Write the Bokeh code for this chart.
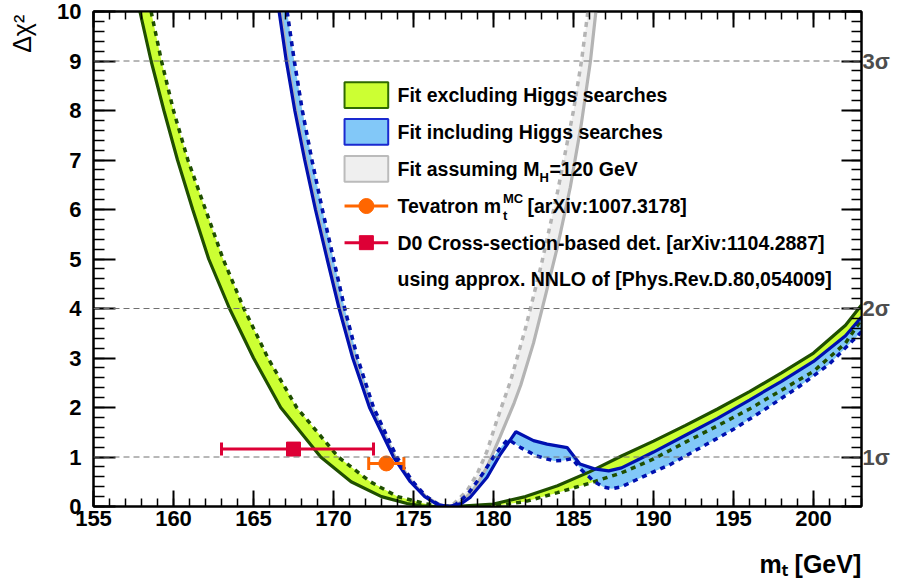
import math
from bokeh.plotting import figure
from bokeh.models import LinearAxis, SingleIntervalTicker, FixedTicker, Span, Label
from bokeh.embed import file_html
from bokeh.resources import INLINE

# ---------------- data ----------------
# Fit excluding Higgs searches (green band)
green_solid_x = [157.9, 158.6, 159.4, 160.25, 161.2, 162.2, 163.5, 165.0, 166.7, 169.2, 171.1, 173.0, 174.6, 175.5, 176.3,
                 178.0, 180.0, 182.0, 184.0, 186.0, 188.0, 190.0, 192.0, 194.0, 196.0, 198.0, 200.0, 202.0, 203.0]
green_solid_y = [10.0, 9.0, 8.0, 7.0, 6.0, 5.0, 4.0, 3.0, 2.0, 1.0, 0.5, 0.2, 0.06, 0.015, 0.0,
                 0.01, 0.05, 0.2, 0.42, 0.7, 1.02, 1.32, 1.64, 1.97, 2.32, 2.7, 3.1, 3.66, 4.07]
green_dot_x = [158.6, 159.25, 160.0, 160.9, 162.0, 163.1, 164.4, 165.9, 167.7, 170.3, 172.3, 174.0, 175.8, 177.0, 177.8,
               180.0, 182.0, 184.0, 186.0, 188.0, 190.0, 192.0, 194.0, 196.0, 198.0, 200.0, 202.0, 203.0]
green_dot_y = [10.0, 9.0, 8.0, 7.0, 6.0, 5.0, 4.0, 3.0, 2.0, 1.0, 0.5, 0.2, 0.05, 0.01, 0.0,
               0.01, 0.1, 0.28, 0.47, 0.68, 0.96, 1.3, 1.63, 1.97, 2.35, 2.73, 3.3, 3.78]

# Fit including Higgs searches (blue band)
blue_solid_x = [166.6, 167.05, 167.58, 168.2, 168.87, 169.6, 170.35, 171.2, 172.25, 173.75, 174.8, 175.7, 176.5, 177.2,
                178.0, 178.56, 179.6, 180.44, 181.4, 182.5, 183.35, 184.6, 185.4, 186.3, 187.2, 188.0, 189.0, 190.0,
                192.0, 194.0, 196.0, 198.0, 200.0, 202.0, 203.0]
blue_solid_y = [10.0, 9.0, 8.0, 7.0, 6.0, 5.0, 4.0, 3.0, 2.0, 1.0, 0.5, 0.2, 0.04, 0.0,
                0.06, 0.19, 0.59, 1.06, 1.51, 1.33, 1.26, 1.19, 0.86, 0.76, 0.72, 0.78, 0.94, 1.1,
                1.44, 1.78, 2.15, 2.53, 2.93, 3.45, 3.83]
blue_dot_x = [167.1, 167.55, 168.05, 168.65, 169.3, 170.0, 170.7, 171.5, 172.5, 173.95, 174.95, 175.8, 176.5, 177.0,
              177.6, 178.4, 179.3, 180.0, 180.44, 180.9, 181.7, 182.7, 183.8, 184.4, 184.9, 185.5, 186.3, 186.9,
              187.4, 188.0, 188.8, 190.0, 191.0, 193.0, 195.0, 197.0, 199.0, 201.0, 203.0]
blue_dot_y = [10.0, 9.0, 8.0, 7.0, 6.0, 5.0, 4.0, 3.0, 2.0, 1.0, 0.5, 0.2, 0.05, 0.0,
              0.03, 0.25, 0.65, 1.0, 1.19, 1.36, 1.19, 1.02, 0.92, 0.93, 0.97, 0.74, 0.5, 0.39,
              0.36, 0.4, 0.52, 0.7, 0.84, 1.2, 1.56, 1.97, 2.4, 2.88, 3.53]

# Fit assuming M_H = 120 GeV (grey band)
grey_solid_x = [166.7, 167.13, 167.66, 168.28, 168.95, 169.68, 170.43, 171.28, 172.33, 173.83, 174.88, 175.78, 176.6, 177.2,
                177.9, 178.8, 179.6, 180.4, 181.3, 181.7, 182.5, 183.2, 184.0, 184.8, 185.5, 186.06, 186.4]
grey_solid_y = [10.0, 9.0, 8.0, 7.0, 6.0, 5.0, 4.0, 3.0, 2.0, 1.0, 0.5, 0.2, 0.04, 0.0,
                0.07, 0.35, 0.8, 1.4, 2.1, 2.45, 3.3, 4.2, 5.25, 6.45, 7.75, 9.0, 10.0]
grey_dot_x = [167.1, 167.55, 168.05, 168.65, 169.3, 170.0, 170.7, 171.5, 172.5, 173.95, 174.95, 175.8, 176.6, 177.1,
              177.5, 178.35, 178.98, 179.6, 180.2, 181.06, 182.0, 183.0, 184.0, 185.0, 185.5, 185.9]
grey_dot_y = [10.0, 9.0, 8.0, 7.0, 6.0, 5.0, 4.0, 3.0, 2.0, 1.0, 0.5, 0.2, 0.04, 0.0,
              0.05, 0.32, 0.66, 1.12, 1.73, 2.53, 3.6, 4.9, 6.35, 8.0, 9.0, 10.0]

# Direct measurements
tev_mt, tev_lo, tev_hi, tev_y = [173.3], [172.2], [174.4], [0.87]
d0_mt, d0_lo, d0_hi, d0_y = [167.5], [163.0], [172.5], [1.16]

# sigma reference levels
sigma_levels = [1, 4, 9]
sigma_labels = ["1σ", "2σ", "3σ"]

legend_texts = ["Fit excluding Higgs searches", "Fit including Higgs searches", "Fit assuming M",
                "Tevatron m", "D0 Cross-section-based det. [arXiv:1104.2887]",
                "using approx. NNLO of [Phys.Rev.D.80,054009]"]

x_title = "m\u209c [GeV]"
y_title = "Δχ²"

# ---------------- style ----------------
FONT = "Liberation Sans"
LIME, DKGREEN = "#ccff33", "#1f4f00"
LBLUE, DKBLUE = "#82c8f8", "#0010b0"
LGREY, GREY = "#efefef", "#b4b4b4"
ORANGE, CRIMSON = "#ff6600", "#dd0036"
XR = (155, 203)
YR = (0, 10)
# where the axis titles sit (ROOT style: at the far end of each axis)
X_TITLE_AT = 199.8
Y_TITLE_AT = 9.55

p = figure(width=898, height=586, x_range=XR, y_range=YR, output_backend="svg",
           toolbar_location=None, min_border_left=93, min_border_right=37,
           min_border_top=11, min_border_bottom=80)
p.grid.visible = False
p.outline_line_color = "black"
p.outline_line_width = 2
p.background_fill_color = "white"
p.border_fill_color = "white"


def style_axis(ax, major_len, minor_len, labels=True):
    ax.axis_line_width = 2
    ax.major_tick_in = major_len
    ax.major_tick_out = 0
    ax.minor_tick_in = minor_len
    ax.minor_tick_out = 0
    ax.major_tick_line_width = 2
    ax.minor_tick_line_width = 1.5
    ax.major_label_text_font = FONT
    ax.major_label_text_font_style = "bold"
    ax.major_label_text_color = "black"
    if labels:
        ax.major_label_text_font_size = "22px"
    else:
        ax.major_label_text_font_size = "1px"
        ax.major_label_text_color = None
        ax.major_label_standoff = 0


def title_axis(pos, text, size, style, standoff, orientation="horizontal"):
    ax = LinearAxis(ticker=FixedTicker(ticks=[pos]), major_label_overrides={pos: text})
    ax.axis_line_color = None
    ax.major_tick_line_color = None
    ax.minor_tick_line_color = None
    ax.major_tick_in = 0
    ax.major_tick_out = 0
    ax.major_label_standoff = standoff
    ax.major_label_orientation = orientation
    ax.major_label_text_font = FONT
    ax.major_label_text_font_style = style
    ax.major_label_text_font_size = size
    ax.major_label_text_color = "black"
    return ax


xt = SingleIntervalTicker(interval=5, num_minor_ticks=5)
yt = SingleIntervalTicker(interval=1, num_minor_ticks=5)
p.xaxis.ticker = xt
p.yaxis.ticker = yt
style_axis(p.xaxis[0], 16, 8)
style_axis(p.yaxis[0], 22, 11)
p.xaxis.major_label_standoff = 4
p.yaxis.major_label_standoff = 12

top = LinearAxis(ticker=SingleIntervalTicker(interval=5, num_minor_ticks=5))
style_axis(top, 16, 8, labels=False)
p.add_layout(top, "above")
right = LinearAxis(ticker=SingleIntervalTicker(interval=1, num_minor_ticks=5))
style_axis(right, 20, 10, labels=False)
p.add_layout(right, "right")

# sigma labels on the right side
sig = title_axis(sigma_levels[0], sigma_labels[0], "22px", "bold", 1)
sig.ticker = FixedTicker(ticks=sigma_levels)
sig.major_label_overrides = dict(zip(sigma_levels, sigma_labels))
sig.major_label_text_color = "#4d4d4d"
p.add_layout(sig, "right")

# axis titles
p.add_layout(title_axis(X_TITLE_AT, x_title, "25px", "bold", 21), "below")
p.add_layout(title_axis(Y_TITLE_AT, y_title, "25px", "normal", 18, "parallel"), "left")

# ---------------- bands ----------------
p.patch(green_solid_x + green_dot_x[::-1], green_solid_y + green_dot_y[::-1],
        fill_color=LIME, line_alpha=0)
p.patch(grey_solid_x + grey_dot_x[::-1], grey_solid_y + grey_dot_y[::-1],
        fill_color=LGREY, line_alpha=0)
p.patch(blue_solid_x + blue_dot_x[::-1], blue_solid_y + blue_dot_y[::-1],
        fill_color=LBLUE, line_alpha=0)

DOT = "5 5"
p.line(green_dot_x, green_dot_y, line_color=DKGREEN, line_width=3.5, line_dash=DOT)
p.line(green_solid_x, green_solid_y, line_color=DKGREEN, line_width=3.2)
p.line(grey_dot_x, grey_dot_y, line_color=GREY, line_width=3.5, line_dash=DOT)
p.line(grey_solid_x, grey_solid_y, line_color=GREY, line_width=3.2)
p.line(blue_dot_x, blue_dot_y, line_color=DKBLUE, line_width=3.5, line_dash=DOT)
p.line(blue_solid_x, blue_solid_y, line_color=DKBLUE, line_width=3.2)

# ---------------- sigma lines ----------------
for lvl in sigma_levels:
    p.add_layout(Span(location=lvl, dimension="width", line_color="#707070",
                      line_width=1, line_dash="6 4"))

# ---------------- measurements ----------------
p.segment(x0=d0_lo, x1=d0_hi, y0=d0_y, y1=d0_y, line_color=CRIMSON, line_width=3)
p.scatter(x=d0_lo + d0_hi, y=d0_y + d0_y, marker="dash", angle=math.pi / 2, size=13,
          line_color=CRIMSON, line_width=3)
p.scatter(x=d0_mt, y=d0_y, marker="square", size=14, fill_color=CRIMSON, line_color=CRIMSON)

p.segment(x0=tev_lo, x1=tev_hi, y0=tev_y, y1=tev_y, line_color=ORANGE, line_width=3)
p.scatter(x=tev_lo + tev_hi, y=tev_y + tev_y, marker="dash", angle=math.pi / 2, size=13,
          line_color=ORANGE, line_width=3)
p.scatter(x=tev_mt, y=tev_y, marker="circle", size=15, fill_color=ORANGE, line_color=ORANGE)

# ---------------- legend ----------------
LEG_X0, LEG_X1, LEG_TX = 170.69, 173.42, 174.0
LEG_XC = (LEG_X0 + LEG_X1) / 2
rows = [8.31, 7.57, 6.82, 6.07, 5.33, 4.59]
HH = 0.26
for r, fc, lc in zip(rows[:3], [LIME, LBLUE, LGREY], ["#2f6a00", "#1a2ad0", "#bbbbbb"]):
    p.quad(left=[LEG_X0], right=[LEG_X1], top=[r + HH], bottom=[r - HH],
           fill_color=fc, line_color=lc, line_width=2)
p.segment(x0=[LEG_X0], x1=[LEG_X1], y0=[rows[3]], y1=[rows[3]], line_color=ORANGE, line_width=3)
p.scatter(x=[LEG_XC], y=[rows[3]], marker="circle", size=15, fill_color=ORANGE, line_color=ORANGE)
p.segment(x0=[LEG_X0], x1=[LEG_X1], y0=[rows[4]], y1=[rows[4]], line_color=CRIMSON, line_width=3)
p.scatter(x=[LEG_XC], y=[rows[4]], marker="square", size=14, fill_color=CRIMSON, line_color=CRIMSON)


def lab(x, y, text, size="19.5px", dx=0, dy=0, **kw):
    opts = dict(text_font=FONT, text_font_style="bold", text_font_size=size,
                text_color="black", text_baseline="middle", text_align="left")
    opts.update(kw)
    p.add_layout(Label(x=x, y=y, x_offset=dx, y_offset=dy, text=text, **opts))


lab(LEG_TX, rows[0], legend_texts[0])
lab(LEG_TX, rows[1], legend_texts[1])
lab(LEG_TX, rows[2], legend_texts[2])
lab(LEG_TX, rows[2], "H", size="13px", dx=142, dy=-9)
lab(LEG_TX, rows[2], "=120 GeV", dx=152)
lab(LEG_TX, rows[3], legend_texts[3])
lab(LEG_TX, rows[3], "MC", size="13px", dx=105.5, dy=8)
lab(LEG_TX, rows[3], "t", size="13px", dx=105.5, dy=-9)
lab(LEG_TX, rows[3], "[arXiv:1007.3178]", dx=130)
lab(LEG_TX, rows[4], legend_texts[4])
lab(LEG_TX, rows[5], legend_texts[5])

open("out.html", "w").write(file_html(p, INLINE))
